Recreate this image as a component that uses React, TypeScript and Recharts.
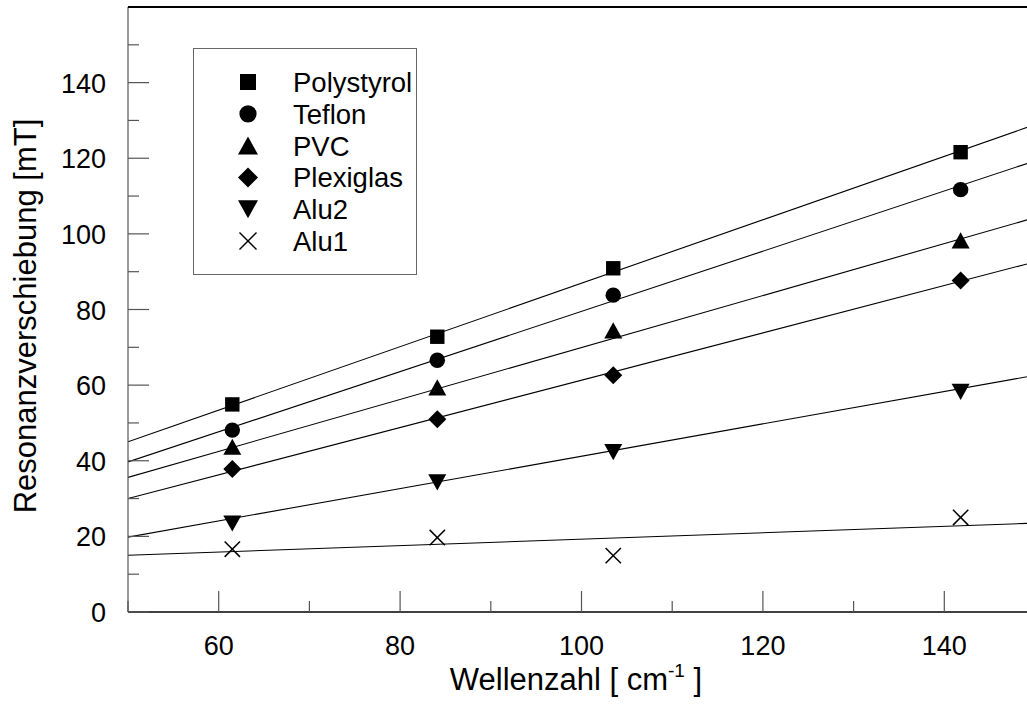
import { ComposedChart, Line, Scatter, XAxis, YAxis, Legend } from 'recharts'

// measured points (x = Wellenzahl in cm^-1, y = Resonanzverschiebung in mT)
const wellenzahl = [61.5, 84.1, 103.5, 141.8]
const polystyrol = [54.9, 72.8, 90.9, 121.6]
const teflon = [48.1, 66.6, 83.8, 111.7]
const pvc = [43.7, 59.4, 74.5, 98.3]
const plexiglas = [37.8, 51, 62.6, 87.7]
const alu2 = [23.4, 34.3, 42.3, 58.2]
const alu1 = [16.6, 19.7, 14.9, 25]

// fit lines, read at the two ends of the x range
const fitX = [50, 150]
const fitPolystyrol = [45, 128.9]
const fitTeflon = [39.7, 119.3]
const fitPvc = [35.6, 104.3]
const fitPlexiglas = [30, 92.6]
const fitAlu2 = [19.8, 62.6]
const fitAlu1 = [15, 23.5]

const xTicks = [50, 60, 70, 80, 90, 100, 110, 120, 130, 140, 150]
const yTicks = [0, 10, 20, 30, 40, 50, 60, 70, 80, 90, 100, 110, 120, 130, 140, 150]

const FONT = '"Liberation Sans", Arial, Helvetica, sans-serif'

type Kind = 'square' | 'circle' | 'up' | 'diamond' | 'down' | 'cross'

const series: { name: string; kind: Kind; values: number[]; fit: number[] }[] = [
  { name: 'Polystyrol', kind: 'square', values: polystyrol, fit: fitPolystyrol },
  { name: 'Teflon', kind: 'circle', values: teflon, fit: fitTeflon },
  { name: 'PVC', kind: 'up', values: pvc, fit: fitPvc },
  { name: 'Plexiglas', kind: 'diamond', values: plexiglas, fit: fitPlexiglas },
  { name: 'Alu2', kind: 'down', values: alu2, fit: fitAlu2 },
  { name: 'Alu1', kind: 'cross', values: alu1, fit: fitAlu1 },
]

function marker(kind: Kind, cx: number, cy: number, s: number) {
  const h = s / 2
  switch (kind) {
    case 'square':
      return <rect x={cx - h * 0.8} y={cy - h * 0.8} width={s * 0.8} height={s * 0.8} fill="#000" />
    case 'circle':
      return <circle cx={cx} cy={cy} r={h * 0.86} fill="#000" />
    case 'up':
      return <polygon points={`${cx},${cy - h * 0.9} ${cx + h},${cy + h * 0.9} ${cx - h},${cy + h * 0.9}`} fill="#000" />
    case 'down':
      return <polygon points={`${cx},${cy + h * 0.9} ${cx + h},${cy - h * 0.9} ${cx - h},${cy - h * 0.9}`} fill="#000" />
    case 'diamond':
      return <polygon points={`${cx},${cy - h} ${cx + h},${cy} ${cx},${cy + h} ${cx - h},${cy}`} fill="#000" />
    default:
      return (
        <g stroke="#000" strokeWidth={1.5}>
          <line x1={cx - h * 0.85} y1={cy - h * 0.85} x2={cx + h * 0.85} y2={cy + h * 0.85} />
          <line x1={cx - h * 0.85} y1={cy + h * 0.85} x2={cx + h * 0.85} y2={cy - h * 0.85} />
        </g>
      )
  }
}

function YTick(props: any) {
  const { x, y, payload } = props
  const major = payload.value % 20 === 0
  return (
    <g>
      <line x1={x} x2={x + (major ? 21 : 11)} y1={y} y2={y} stroke="#555" strokeWidth={1.2} />
      {major && (
        <text x={x - 22} y={y + 10} textAnchor="end" fontSize={27} fontFamily={FONT} fill="#000">
          {payload.value}
        </text>
      )}
    </g>
  )
}

function XTick(props: any) {
  const { x, y, payload } = props
  const major = payload.value % 20 === 0
  return (
    <g>
      <line x1={x} x2={x} y1={y} y2={y - (major ? 21 : 11)} stroke="#555" strokeWidth={1.2} />
      {major && (
        <text x={x} y={y + 43} textAnchor="middle" fontSize={27} fontFamily={FONT} fill="#000">
          {payload.value}
        </text>
      )}
    </g>
  )
}

function LegendBox() {
  return (
    <svg width={224} height={227} style={{ display: 'block' }}>
      <rect x={0.5} y={0.5} width={223} height={226} fill="#fff" stroke="#666" strokeWidth={1} />
      {series.map((s, i) => {
        const cy = 34 + i * 31.8
        return (
          <g key={s.name}>
            {marker(s.kind, 55, cy, 20)}
            <text x={100} y={cy + 10} fontSize={27.5} fontFamily={FONT} fill="#000">
              {s.name}
            </text>
          </g>
        )
      })}
    </svg>
  )
}

export default function App() {
  return (
    <div style={{ position: 'fixed', left: 0, top: 0, width: 1027, height: 715, overflow: 'hidden', background: '#fff' }}>
      <ComposedChart width={1041} height={715} margin={{ top: 7, right: 6, left: 0, bottom: 0 }}>
        <XAxis
          xAxisId="b"
          type="number"
          dataKey="x"
          domain={[50, 150]}
          ticks={xTicks}
          interval={0}
          height={103}
          tickSize={0}
          tickMargin={0}
          tickLine={false}
          tick={<XTick />}
          axisLine={{ stroke: '#000', strokeWidth: 1.6 }}
          allowDataOverflow
        />
        <YAxis
          type="number"
          dataKey="y"
          domain={[0, 160]}
          ticks={yTicks}
          interval={0}
          width={128}
          tickSize={0}
          tickMargin={0}
          tickLine={false}
          tick={<YTick />}
          axisLine={{ stroke: '#555', strokeWidth: 1.2 }}
          allowDataOverflow
        />
        <Legend
          layout="vertical"
          align="center"
          verticalAlign="middle"
          content={() => <LegendBox />}
          wrapperStyle={{ left: 193, top: 48, width: 224, height: 227 }}
        />
        {series.map((s) => (
          <Line
            key={'fit-' + s.name}
            xAxisId="b"
            data={fitX.map((x, i) => ({ x, y: s.fit[i] }))}
            dataKey="y"
            stroke="#000"
            strokeWidth={1.1}
            dot={false}
            activeDot={false}
            legendType="none"
            isAnimationActive={false}
          />
        ))}
        {series.map((s) => (
          <Scatter
            key={s.name}
            xAxisId="b"
            name={s.name}
            data={wellenzahl.map((x, i) => ({ x, y: s.values[i] }))}
            dataKey="y"
            isAnimationActive={false}
            shape={(p: any) => marker(s.kind, p.cx, p.cy, 18)}
          />
        ))}
      </ComposedChart>
      <svg width={1027} height={715} style={{ position: 'absolute', left: 0, top: 0, pointerEvents: 'none' }}>
        <rect x={128} y={6} width={899} height={2} fill="#000" />
        <text
          x={36}
          y={316}
          transform="rotate(-90, 36, 316)"
          textAnchor="middle"
          fontSize={31}
          fontFamily={FONT}
          fill="#000"
        >
          Resonanzverschiebung [mT]
        </text>
        <text x={576} y={690} textAnchor="middle" fontSize={31} fontFamily={FONT} fill="#000">
          Wellenzahl [ cm
          <tspan dy={-13} fontSize={19}>-1</tspan>
          <tspan dy={13}> ]</tspan>
        </text>
      </svg>
    </div>
  )
}
